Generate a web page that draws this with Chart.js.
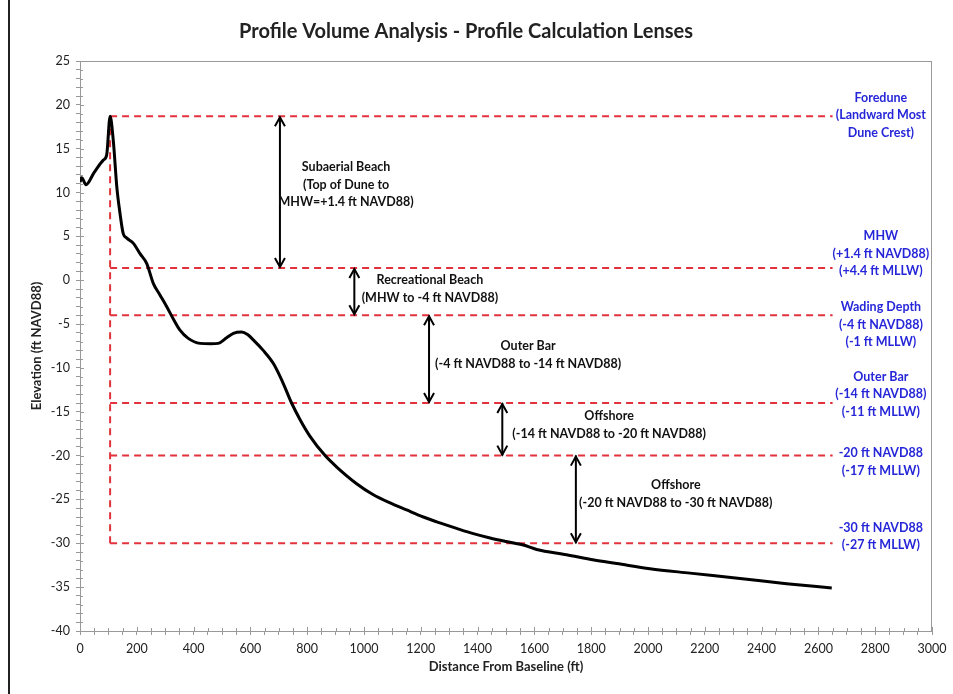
<!DOCTYPE html>
<html>
<head>
<meta charset="utf-8">
<script src="https://cdn.jsdelivr.net/npm/chart.js@4.4.1/dist/chart.umd.min.js"></script>
<style>
  html, body { margin: 0; padding: 0; background: #fff; }
  #wrap { position: relative; width: 953px; height: 694px; }
</style>
</head>
<body>
<div id="wrap"><canvas id="profile"></canvas></div>
<script>
// beach profile
const distance = [0, 6, 21, 50, 82, 94, 106, 117, 130, 141, 152, 165, 188, 212, 235, 258, 282, 305,
  330, 352, 380, 423, 460, 487, 515, 540, 569, 590, 610, 645, 681, 712, 745, 775, 810, 863, 904,
  974, 1030, 1092, 1150, 1209, 1270, 1326, 1385, 1444, 1500, 1561, 1608, 1713, 1810, 1890, 2007,
  2148, 2324, 2488, 2647];
const elevation = [11.2, 11.7, 10.9, 12.3, 13.7, 14.3, 18.7, 16.0, 10.5, 7.6, 5.35, 4.8, 4.2, 3.0,
  1.9, -0.35, -1.7, -3.0, -4.5, -5.7, -6.6, -7.2, -7.25, -7.2, -6.6, -6.05, -5.9, -6.2, -6.8, -8.0,
  -9.5, -11.5, -14.0, -15.9, -17.8, -20.0, -21.3, -23.2, -24.4, -25.4, -26.2, -27.0, -27.7, -28.3,
  -28.9, -29.4, -29.8, -30.2, -30.7, -31.3, -31.9, -32.3, -32.9, -33.4, -34.0, -34.6, -35.1];

// lens boundaries (ft NAVD88)
const lensElevations = [18.7, 1.4, -4, -14, -20, -30];
const lensStart = 106;
const lensEnd = 2650;
const arrowDistance = [704, 966, 1229, 1487, 1746];

const lensLabels = [
  ['Subaerial Beach', '(Top of Dune to', 'MHW=+1.4 ft NAVD88)'],
  ['Recreational Beach', '(MHW to -4 ft NAVD88)'],
  ['Outer Bar', '(-4 ft NAVD88 to -14 ft NAVD88)'],
  ['Offshore', '(-14 ft NAVD88 to -20 ft NAVD88)'],
  ['Offshore', '(-20 ft NAVD88 to -30 ft NAVD88)'],
];
const boundaryLabels = [
  ['Foredune', '(Landward Most', 'Dune Crest)'],
  ['MHW', '(+1.4 ft NAVD88)', '(+4.4 ft MLLW)'],
  ['Wading Depth', '(-4 ft NAVD88)', '(-1 ft MLLW)'],
  ['Outer Bar', '(-14 ft NAVD88)', '(-11 ft MLLW)'],
  ['-20 ft NAVD88', '(-17 ft MLLW)'],
  ['-30 ft NAVD88', '(-27 ft MLLW)'],
];

// where the text blocks sit (data units, block centre)
const lensLabelPos = [[937, 10.9], [1232, -1.0], [1578, -8.5], [1863, -16.5], [2098, -24.4]];
const boundaryLabelX = 2820;
const boundaryLabelY = [18.8, 3.0, -5.1, -13.0, -20.7, -29.2];

const FONT = 'Lato, "Open Sans", sans-serif';
const RED = '#e2323c';

const datasets = [{
  data: distance.map((d, i) => ({ x: d, y: elevation[i] })),
  borderColor: '#000',
  borderWidth: 3,
  pointRadius: 0,
  cubicInterpolationMode: 'monotone'
}];

lensElevations.forEach(e => {
  datasets.push({
    data: [{ x: lensStart, y: e }, { x: lensEnd, y: e }],
    borderColor: RED, borderWidth: 2, borderDash: [7, 5], pointRadius: 0
  });
});
datasets.push({
  data: [{ x: lensStart, y: lensElevations[0] }, { x: lensStart, y: lensElevations[lensElevations.length - 1] }],
  borderColor: RED, borderWidth: 2, borderDash: [7, 5], pointRadius: 0
});
arrowDistance.forEach((d, i) => {
  datasets.push({
    data: [{ x: d, y: lensElevations[i] }, { x: d, y: lensElevations[i + 1] }],
    borderColor: '#000', borderWidth: 2, pointRadius: 0
  });
});

const extras = {
  id: 'extras',
  beforeDraw(chart) {
    const { ctx, chartArea: a } = chart;
    ctx.save();
    ctx.fillStyle = '#fff';
    ctx.fillRect(0, 0, chart.width, chart.height);
    ctx.strokeStyle = '#222';
    ctx.lineWidth = 2;
    ctx.beginPath();
    ctx.moveTo(9, 0);
    ctx.lineTo(9, chart.height);
    ctx.stroke();
    ctx.strokeStyle = '#999';
    ctx.lineWidth = 1;
    ctx.strokeRect(a.left + 0.5, a.top + 0.5, a.right - a.left - 1, a.bottom - a.top);
    // inner half of the tick marks
    const xs = chart.scales.x, ys = chart.scales.y;
    ctx.beginPath();
    ys.ticks.forEach(t => {
      const py = Math.round(ys.getPixelForValue(t.value)) + 0.5;
      ctx.moveTo(a.left, py);
      ctx.lineTo(a.left + (t.value % 5 === 0 ? 4 : 3), py);
    });
    xs.ticks.forEach(t => {
      const px = Math.round(xs.getPixelForValue(t.value)) + 0.5;
      ctx.moveTo(px, a.bottom);
      ctx.lineTo(px, a.bottom - (t.value % 200 === 0 ? 4 : 3));
    });
    ctx.stroke();
    ctx.restore();
  },
  afterDatasetsDraw(chart) {
    const { ctx } = chart;
    const xs = chart.scales.x, ys = chart.scales.y;
    ctx.save();
    // arrow heads
    ctx.strokeStyle = '#000';
    ctx.lineWidth = 2;
    arrowDistance.forEach((d, i) => {
      const px = xs.getPixelForValue(d);
      const top = ys.getPixelForValue(lensElevations[i]);
      const bot = ys.getPixelForValue(lensElevations[i + 1]);
      ctx.beginPath();
      ctx.moveTo(px - 5, top + 10);
      ctx.lineTo(px, top + 1);
      ctx.lineTo(px + 5, top + 10);
      ctx.moveTo(px - 5, bot - 10);
      ctx.lineTo(px, bot - 1);
      ctx.lineTo(px + 5, bot - 10);
      ctx.stroke();
    });
    ctx.textAlign = 'center';
    ctx.textBaseline = 'middle';
    ctx.font = 'bold 12.5px ' + FONT;
    const block = (lines, cx, cy) => {
      const h = 17.5;
      lines.forEach((s, k) => {
        ctx.fillText(s, cx, cy + (k - (lines.length - 1) / 2) * h);
      });
    };
    ctx.fillStyle = '#111';
    lensLabels.forEach((lines, i) => {
      block(lines, xs.getPixelForValue(lensLabelPos[i][0]), ys.getPixelForValue(lensLabelPos[i][1]));
    });
    ctx.fillStyle = '#2626d9';
    boundaryLabels.forEach((lines, i) => {
      block(lines, xs.getPixelForValue(boundaryLabelX), ys.getPixelForValue(boundaryLabelY[i]));
    });
    ctx.restore();
  }
};

const ctx = document.getElementById('profile').getContext('2d');
new Chart(ctx, {
  type: 'line',
  data: { datasets },
  options: {
    responsive: true,
    maintainAspectRatio: false,
    animation: false,
    layout: { padding: { top: 0, right: 21, bottom: 0, left: 0 } },
    plugins: {
      legend: { display: false },
      tooltip: { enabled: false },
      title: {
        display: true,
        text: 'Profile Volume Analysis - Profile Calculation Lenses',
        color: '#222',
        font: { family: FONT, size: 20, weight: 'bold', lineHeight: 1.2 },
        padding: { top: 20, bottom: 17 }
      }
    },
    scales: {
      x: {
        type: 'linear',
        min: 0, max: 3000,
        afterFit(s) { s.height = 63; },
        border: { color: '#999' },
        grid: { drawOnChartArea: false, tickLength: 4, color: '#999' },
        ticks: {
          stepSize: 50, autoSkip: false, maxRotation: 0, padding: 6,
          color: '#222', font: { family: FONT, size: 12.5 },
          callback: v => (v % 200 === 0 ? v : '')
        },
        title: {
          display: true, text: 'Distance From Baseline (ft)', color: '#222',
          font: { family: FONT, size: 13, weight: 'bold' },
          padding: { top: 0, bottom: 19 }
        }
      },
      y: {
        min: -40, max: 25,
        afterFit(s) { s.width = 80; },
        border: { color: '#999' },
        grid: { drawOnChartArea: false, tickLength: 4, color: '#999' },
        ticks: {
          stepSize: 1, autoSkip: false, padding: 6,
          color: '#222', font: { family: FONT, size: 12.5 },
          callback: v => (v % 5 === 0 ? v : '')
        },
        title: {
          display: true, text: 'Elevation (ft NAVD88)', color: '#222',
          font: { family: FONT, size: 13, weight: 'bold' },
          padding: { top: 29, bottom: 0 }
        }
      }
    }
  },
  plugins: [extras]
});
</script>
</body>
</html>
